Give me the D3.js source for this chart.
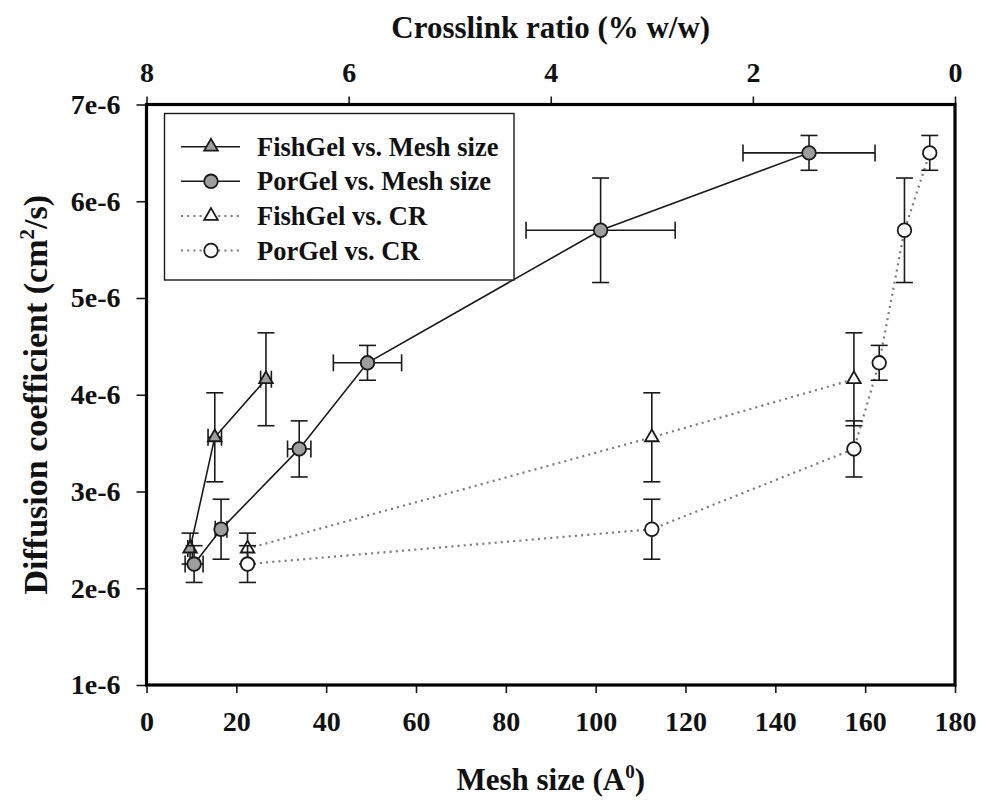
<!DOCTYPE html>
<html>
<head>
<meta charset="utf-8">
<script src="https://cdn.jsdelivr.net/npm/d3@7"></script>
<style>
  html, body { margin: 0; padding: 0; background: #fff; }
  svg { display: block; }
  text { font-family: "Liberation Serif", "Times New Roman", serif; font-weight: bold; fill: #111; }
</style>
</head>
<body>
<svg id="chart" width="982" height="800"></svg>
<script>
// Mesh size (Å) for each gel, with its uncertainty
const meshFish    = [9.7, 15.2, 26.6];
const meshFishErr = [0.5, 1.5, 1.2];
const meshPor     = [10.6, 16.6, 34.0, 49.2, 101.1, 147.5];
const meshPorErr  = [2.0, 1.3, 2.6, 7.6, 16.6, 14.7];

// Crosslink ratio (% w/w) for each gel
const crFish = [7, 3, 1];
const crPor  = [7, 3, 1, 0.75, 0.5, 0.25];

// Diffusion coefficient (cm^2/s) and its uncertainty
const dFish    = [2.41e-6, 3.56e-6, 4.16e-6];
const dFishErr = [0.16e-6, 0.46e-6, 0.48e-6];
const dPor     = [2.25e-6, 2.61e-6, 3.44e-6, 4.33e-6, 5.70e-6, 6.50e-6];
const dPorErr  = [0.19e-6, 0.31e-6, 0.29e-6, 0.18e-6, 0.54e-6, 0.18e-6];

// Axis ticks
const meshTicks = [0, 20, 40, 60, 80, 100, 120, 140, 160, 180];
const crTicks   = [8, 6, 4, 2, 0];
const dTicks    = [1e-6, 2e-6, 3e-6, 4e-6, 5e-6, 6e-6, 7e-6];

// Legend entries
const legendLabels = ["FishGel vs. Mesh size", "PorGel vs. Mesh size", "FishGel vs. CR", "PorGel vs. CR"];

const svg = d3.select("#chart");
const plot = { left: 146.5, right: 955, top: 104.5, bottom: 685 };

const x    = d3.scaleLinear().domain([0, 180]).range([plot.left, plot.right]);
const xTop = d3.scaleLinear().domain([8, 0]).range([plot.left, plot.right]);
const y    = d3.scaleLinear().domain([1e-6, 7e-6]).range([plot.bottom, plot.top]);

const DARK = "#1a1a1a";
const GREY_FILL = "#9e9e9e";
const DOT = "#7a7a7a";

// ---- axes ----
function styleAxis(g, fs) {
  g.select(".domain").remove();
  g.selectAll(".tick line").attr("stroke", DARK).attr("stroke-width", 1.6);
  g.selectAll(".tick text").attr("font-size", fs).attr("fill", "#111")
    .attr("font-family", "Liberation Serif, serif").attr("font-weight", "bold");
}

svg.append("g")
  .attr("transform", `translate(0,${plot.bottom})`)
  .call(d3.axisBottom(x).tickValues(meshTicks).tickSize(8).tickPadding(18).tickFormat(d3.format("d")))
  .call(g => styleAxis(g, 28));

svg.append("g")
  .attr("transform", `translate(0,${plot.top})`)
  .call(d3.axisTop(xTop).tickValues(crTicks).tickSize(8).tickPadding(15).tickFormat(d3.format("d")))
  .call(g => styleAxis(g, 28));

svg.append("g")
  .attr("transform", `translate(${plot.left},0)`)
  .call(d3.axisLeft(y).tickValues(dTicks).tickSize(10).tickPadding(16)
    .tickFormat(d => `${Math.round(d * 1e6)}e-6`))
  .call(g => styleAxis(g, 28));

// plot frame
svg.append("rect")
  .attr("x", plot.left).attr("y", plot.top)
  .attr("width", plot.right - plot.left).attr("height", plot.bottom - plot.top)
  .attr("fill", "none").attr("stroke", "#000").attr("stroke-width", 3.2);

// ---- axis titles ----
svg.append("text")
  .attr("x", (plot.left + plot.right) / 2).attr("y", 38)
  .attr("text-anchor", "middle").attr("font-size", 31)
  .text("Crosslink ratio (% w/w)");

const xt = svg.append("text")
  .attr("x", (plot.left + plot.right) / 2).attr("y", 790)
  .attr("text-anchor", "middle").attr("font-size", 31);
xt.append("tspan").text("Mesh size (A");
xt.append("tspan").attr("font-size", 19).attr("dy", -12).text("0");
xt.append("tspan").attr("dy", 12).text(")");

const yt = svg.append("text")
  .attr("transform", `translate(47,${(plot.top + plot.bottom) / 2}) rotate(-90)`)
  .attr("text-anchor", "middle").attr("font-size", 34);
yt.append("tspan").text("Diffusion coefficient (cm");
yt.append("tspan").attr("font-size", 21).attr("dy", -13).text("2");
yt.append("tspan").attr("dy", 13).text("/s)");

// ---- series ----
const CAP = 8.5;
const triangle = d3.symbol().type(d3.symbolTriangle).size(80);

function series(xs, xScale, ys, yErr, xErr, opts) {
  const pts = xs.map((v, i) => ({ px: xScale(v), py: y(ys[i]), d: ys[i], e: yErr[i], xv: v, xe: xErr ? xErr[i] : 0 }));
  const g = svg.append("g");

  // connecting line
  g.append("path")
    .datum(pts)
    .attr("d", d3.line().x(p => p.px).y(p => p.py))
    .attr("fill", "none")
    .attr("stroke", opts.dotted ? DOT : DARK)
    .attr("stroke-width", opts.dotted ? 2.2 : 1.6)
    .attr("stroke-dasharray", opts.dotted ? "2,4.2" : null);

  // error bars (vertical for D, horizontal for mesh size)
  const eb = g.append("g").attr("stroke", DARK).attr("stroke-width", 1.6).attr("fill", "none");
  pts.forEach(p => {
    const y0 = y(p.d - p.e), y1 = y(p.d + p.e);
    eb.append("line").attr("x1", p.px).attr("x2", p.px).attr("y1", y0).attr("y2", y1);
    eb.append("line").attr("x1", p.px - CAP).attr("x2", p.px + CAP).attr("y1", y0).attr("y2", y0);
    eb.append("line").attr("x1", p.px - CAP).attr("x2", p.px + CAP).attr("y1", y1).attr("y2", y1);
    if (p.xe > 0) {
      const x0 = xScale(p.xv - p.xe), x1 = xScale(p.xv + p.xe);
      eb.append("line").attr("x1", x0).attr("x2", x1).attr("y1", p.py).attr("y2", p.py);
      eb.append("line").attr("x1", x0).attr("x2", x0).attr("y1", p.py - CAP).attr("y2", p.py + CAP);
      eb.append("line").attr("x1", x1).attr("x2", x1).attr("y1", p.py - CAP).attr("y2", p.py + CAP);
    }
  });

  // markers
  const mk = g.append("g");
  pts.forEach(p => drawMarker(mk, p.px, p.py, opts));
}

function drawMarker(parent, cx, cy, opts) {
  if (opts.shape === "triangle") {
    parent.append("path")
      .attr("d", triangle())
      .attr("transform", `translate(${cx},${cy})`)
      .attr("fill", opts.fill).attr("stroke", DARK).attr("stroke-width", 1.8);
  } else {
    parent.append("circle")
      .attr("cx", cx).attr("cy", cy).attr("r", 6.8)
      .attr("fill", opts.fill).attr("stroke", DARK).attr("stroke-width", 1.8);
  }
}

const styles = [
  { shape: "triangle", fill: GREY_FILL, dotted: false },
  { shape: "circle",   fill: GREY_FILL, dotted: false },
  { shape: "triangle", fill: "#fff",    dotted: true },
  { shape: "circle",   fill: "#fff",    dotted: true }
];

series(crFish, xTop, dFish, dFishErr, null, styles[2]);
series(crPor,  xTop, dPor,  dPorErr,  null, styles[3]);
series(meshFish, x, dFish, dFishErr, meshFishErr, styles[0]);
series(meshPor,  x, dPor,  dPorErr,  meshPorErr,  styles[1]);

// ---- legend ----
const lg = svg.append("g");
lg.append("rect")
  .attr("x", 164.5).attr("y", 113.5).attr("width", 349.5).attr("height", 166.5)
  .attr("fill", "#fff").attr("stroke", DARK).attr("stroke-width", 1.4);

const rowY = [146.7, 181.3, 216, 250.5];
legendLabels.forEach((label, i) => {
  const s = styles[i];
  const yy = rowY[i];
  lg.append("line")
    .attr("x1", 181).attr("x2", 240).attr("y1", yy).attr("y2", yy)
    .attr("stroke", s.dotted ? DOT : DARK)
    .attr("stroke-width", s.dotted ? 2.2 : 1.6)
    .attr("stroke-dasharray", s.dotted ? "2,4.2" : null);
  drawMarker(lg, 211, yy, s);
  lg.append("text")
    .attr("x", 257).attr("y", yy + 9)
    .attr("font-size", 26.5)
    .text(label);
});
</script>
</body>
</html>
